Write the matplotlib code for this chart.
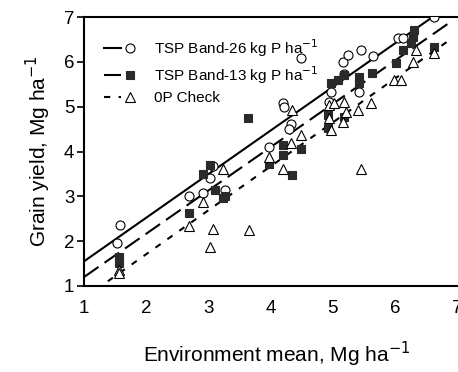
import numpy as np
import matplotlib
matplotlib.use("Agg")
import matplotlib.pyplot as plt
from matplotlib.legend_handler import HandlerTuple

plt.rcParams['font.family'] = ['Liberation Sans', 'DejaVu Sans']

# TSP Band-26 kg P/ha (open circles)
env_26 = [1.58, 1.53, 2.68, 2.92, 3.03, 3.08, 3.27, 3.97, 4.19, 4.22, 4.32, 4.29,
          4.48, 4.94, 4.97, 5.18, 5.16, 5.24, 5.45, 5.42, 5.65, 6.05, 6.12, 6.63]
yield_26 = [2.35, 1.95, 3.00, 3.08, 3.40, 3.68, 3.15, 4.10, 5.08, 5.00, 4.62, 4.50,
            6.08, 5.10, 5.32, 5.72, 6.00, 6.16, 6.27, 5.32, 6.12, 6.54, 6.54, 7.00]

# TSP Band-13 kg P/ha (filled squares)
env_13 = [1.57, 1.56, 2.68, 2.92, 3.03, 3.11, 3.24, 3.27, 3.63, 3.97, 4.19, 4.19,
          4.48, 4.35, 4.92, 4.92, 5.18, 4.97, 5.08, 5.18, 5.42, 5.42, 5.63, 6.02,
          6.12, 6.31, 6.29, 6.26, 6.63]
yield_13 = [1.65, 1.52, 2.63, 3.50, 3.70, 3.15, 2.96, 3.00, 4.75, 3.72, 4.15, 3.92,
            4.05, 3.47, 4.82, 4.53, 4.78, 5.53, 5.60, 5.70, 5.67, 5.53, 5.76, 5.98,
            6.27, 6.70, 6.56, 6.42, 6.32]

# 0P check (open triangles)
env_0 = [1.57, 1.57, 2.68, 2.92, 3.08, 3.02, 3.65, 3.24, 3.97, 4.19, 4.32, 4.35,
         4.48, 4.94, 5.02, 5.18, 5.21, 5.40, 5.61, 4.94, 5.16, 4.97, 5.45, 5.98,
         6.10, 6.29, 6.34, 6.63]
yield_0 = [1.35, 1.28, 2.33, 2.88, 2.27, 1.88, 2.25, 3.62, 3.87, 3.60, 4.20, 4.92,
           4.37, 5.04, 5.08, 5.11, 4.88, 4.93, 5.08, 4.75, 4.66, 4.48, 3.60, 5.60,
           5.60, 6.00, 6.27, 6.20]

# fitted lines (intercept, slope, x range)
fit_26 = (0.577, 0.973, 1.0, 6.6)
fit_13 = (0.234, 0.966, 1.0, 6.87)
fit_0 = (-0.25, 0.98, 1.0, 6.9)

fig = plt.figure(figsize=(4.58, 3.72), dpi=100)
ax = fig.add_axes([84 / 458, 1 - 286 / 372, 374 / 458, 269 / 372])

def fit_line(fit):
    x = np.array([fit[2], fit[3]])
    return x, fit[0] + fit[1] * x

x, y = fit_line(fit_26)
l26, = ax.plot(x, y, color='black', lw=1.5, linestyle='-')
x, y = fit_line(fit_13)
l13, = ax.plot(x, y, color='black', lw=1.5, linestyle=(0, (8.5, 3.5)))
x, y = fit_line(fit_0)
l0, = ax.plot(x, y, color='black', lw=1.5, linestyle=(0, (3, 4)))

m26, = ax.plot(env_26, yield_26, 'o', ms=6.5, mfc='white', mec='black', mew=0.8, zorder=3)
m13, = ax.plot(env_13, yield_13, 's', ms=6, mfc='#2a2a2a', mec='#2a2a2a', mew=0.8, zorder=3)
m0, = ax.plot(env_0, yield_0, '^', ms=7.5, mfc='white', mec='black', mew=0.8, zorder=3)

ax.set_xlim(1, 7.01)
ax.set_ylim(1, 7)
ax.set_xticks([1, 2, 3, 4, 5, 6, 7])
ax.set_yticks([1, 2, 3, 4, 5, 6, 7])
ax.tick_params(axis='y', direction='out', length=5, width=1.2, labelsize=13.5, pad=2)
ax.tick_params(axis='x', length=0, labelsize=13.5, pad=10)
for s in ['left', 'bottom', 'top']:
    ax.spines[s].set_linewidth(1.5)
ax.spines['right'].set_visible(False)

ax.set_xlabel('Environment mean, Mg ha$^{-1}$', fontsize=15, labelpad=14)
ax.xaxis.set_label_coords(0.515, -0.2)
ax.set_ylabel('Grain yield, Mg ha$^{-1}$', fontsize=15, labelpad=8)

ax.legend([(l26, m26), (l13, m13), (l0, m0)],
          ['TSP Band-26 kg P ha$^{-1}$', 'TSP Band-13 kg P ha$^{-1}$', '0P Check'],
          handler_map={tuple: HandlerTuple(ndivide=None, pad=0.0)},
          loc='upper left', frameon=False, fontsize=11, handlelength=2.3,
          handletextpad=1.0, labelspacing=0.35, borderaxespad=0.9)

fig.savefig('out.png', dpi=100)
